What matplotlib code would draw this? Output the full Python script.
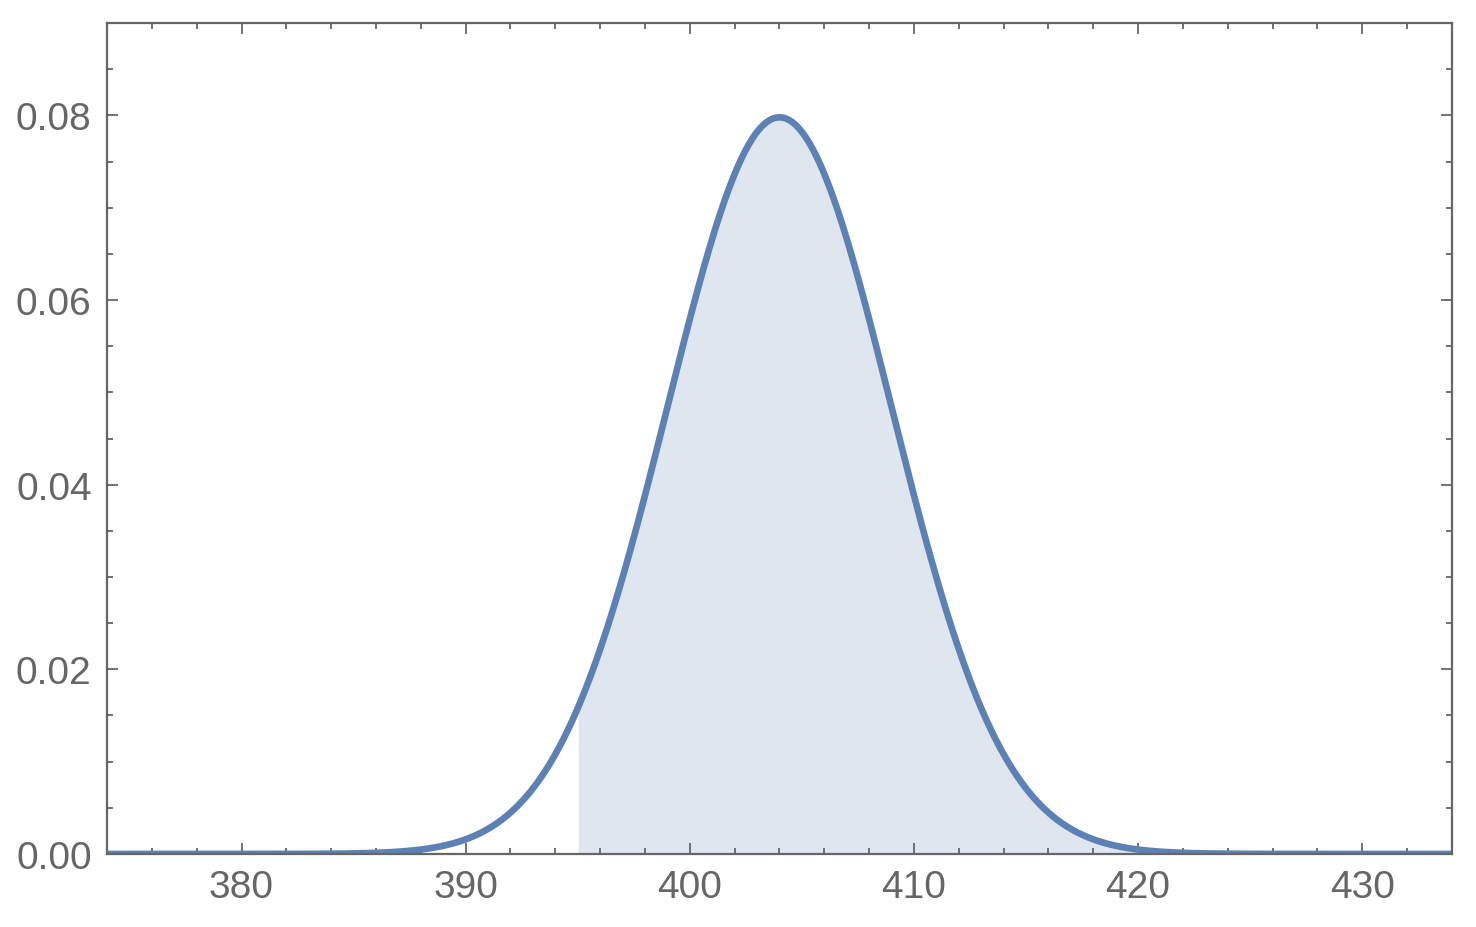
import numpy as np
import matplotlib.pyplot as plt
from matplotlib.ticker import MultipleLocator, FormatStrFormatter

# Normal distribution shown in the chart
mu = 404
sigma = 5
x_range = [374, 434]
y_range = [0, 0.09]
shade_from = 395

x = np.linspace(x_range[0], x_range[1], 1200)
pdf = np.exp(-0.5 * ((x - mu) / sigma) ** 2) / (sigma * np.sqrt(2 * np.pi))

plt.rcParams['font.family'] = ['Liberation Sans', 'DejaVu Sans']

fig = plt.figure(figsize=(14.76, 9.28), dpi=100)
ax = fig.add_axes([0.0725, 0.0787, 0.9112, 0.8954])

line_color = "#5e81b5"
frame_color = "#666666"

# Shaded area from 395 to the right
mask = x >= shade_from
ax.fill_between(x[mask], 0, pdf[mask], color="#dfe6f0", linewidth=0)
ax.plot(x, pdf, color=line_color, lw=4.8, solid_capstyle="butt")

ax.set_xlim(x_range)
ax.set_ylim(y_range)

ax.xaxis.set_major_locator(MultipleLocator(10))
ax.xaxis.set_minor_locator(MultipleLocator(2))
ax.yaxis.set_major_locator(MultipleLocator(0.02))
ax.yaxis.set_minor_locator(MultipleLocator(0.005))
ax.yaxis.set_major_formatter(FormatStrFormatter("%.2f"))

ax.tick_params(which="both", direction="in", top=True, right=True,
               color=frame_color, width=1.3)
ax.tick_params(which="major", length=8, labelsize=28, labelcolor=frame_color, pad=11)
ax.tick_params(which="minor", length=4.5)

for s in ax.spines.values():
    s.set_color(frame_color)
    s.set_linewidth(1.6)

plt.savefig("out.png")
